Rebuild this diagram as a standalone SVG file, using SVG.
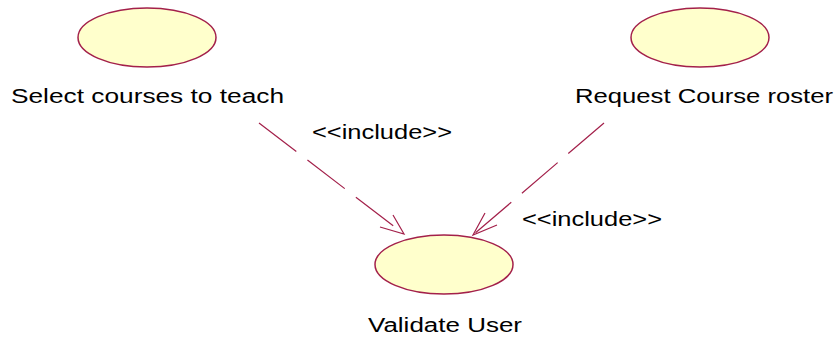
<svg xmlns="http://www.w3.org/2000/svg" width="836" height="337" viewBox="0 0 836 337">
  <defs>
    <style>
      .uc { fill: #ffffcc; stroke: #a3204a; stroke-width: 1.5; }
      .lbl { font-family: "Liberation Sans", Arial, sans-serif; font-size: 19.5px; fill: #000; }
      .dep { fill: none; stroke: #a3204a; stroke-width: 1.2; stroke-dasharray: 47 14; }
      .head { fill: none; stroke: #a3204a; stroke-width: 1.2; }
    </style>
  </defs>
  <rect width="836" height="337" fill="#ffffff"/>

  <!-- use cases -->
  <g id="select-courses">
    <ellipse class="uc" cx="147" cy="37.5" rx="69" ry="29.5"/>
    <text class="lbl" x="11" y="103" textLength="273" lengthAdjust="spacingAndGlyphs">Select courses to teach</text>
  </g>
  <g id="request-roster">
    <ellipse class="uc" cx="700" cy="37.5" rx="69" ry="29.5"/>
    <text class="lbl" x="575" y="103" textLength="258" lengthAdjust="spacingAndGlyphs">Request Course roster</text>
  </g>
  <g id="validate-user">
    <ellipse class="uc" cx="444" cy="264.5" rx="69" ry="29.5"/>
    <text class="lbl" x="368" y="332" textLength="154" lengthAdjust="spacingAndGlyphs">Validate User</text>
  </g>

  <!-- include dependencies -->
  <g id="connectors">
    <path class="dep" d="M259 123 L404 234"/>
    <path class="head" d="M380 227 L404 234 L393 215"/>
    <text class="lbl" x="312" y="139" textLength="140" lengthAdjust="spacingAndGlyphs">&lt;&lt;include&gt;&gt;</text>

    <path class="dep" d="M604 123 L473 235"/>
    <path class="head" d="M497 225 L473 235 L485 213"/>
    <text class="lbl" x="522" y="226" textLength="140" lengthAdjust="spacingAndGlyphs">&lt;&lt;include&gt;&gt;</text>
  </g>
</svg>
